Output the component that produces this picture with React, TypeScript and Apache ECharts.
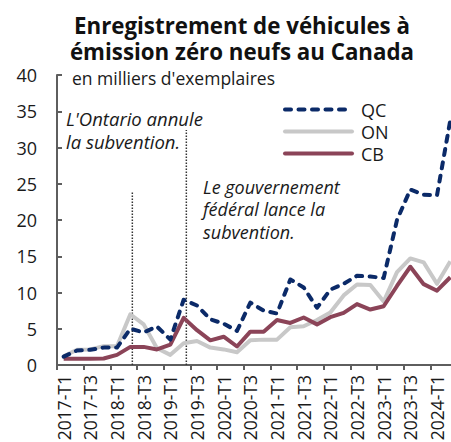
import React, { useEffect, useRef } from "react";
import * as echarts from "echarts";

const categories = [
  "2017-T1", "2017-T2", "2017-T3", "2017-T4",
  "2018-T1", "2018-T2", "2018-T3", "2018-T4",
  "2019-T1", "2019-T2", "2019-T3", "2019-T4",
  "2020-T1", "2020-T2", "2020-T3", "2020-T4",
  "2021-T1", "2021-T2", "2021-T3", "2021-T4",
  "2022-T1", "2022-T2", "2022-T3", "2022-T4",
  "2023-T1", "2023-T2", "2023-T3", "2023-T4",
  "2024-T1", "2024-T2",
];

const qcValues = [
  1.15, 2.0, 2.1, 2.4, 2.4, 5.0, 4.5, 5.3, 3.5, 9.0,
  8.2, 6.3, 5.7, 4.7, 8.6, 7.5, 7.1, 11.8, 10.7, 7.9,
  10.4, 11.2, 12.3, 12.2, 12.0, 20.0, 24.2, 23.5, 23.4, 33.8,
];

const onValues = [
  1.2, 2.1, 2.15, 2.6, 2.6, 7.0, 5.6, 2.3, 1.4, 3.0,
  3.3, 2.4, 2.15, 1.75, 3.4, 3.5, 3.5, 5.2, 5.35, 6.2,
  7.25, 9.6, 11.1, 11.05, 8.75, 12.8, 14.7, 14.15, 11.2, 14.3,
];

const cbValues = [
  0.85, 0.85, 0.85, 0.9, 1.4, 2.5, 2.5, 2.15, 2.8, 6.5,
  4.8, 3.4, 3.9, 2.55, 4.6, 4.6, 6.2, 5.8, 6.55, 5.6,
  6.6, 7.2, 8.4, 7.65, 8.1, 10.9, 13.55, 11.15, 10.25, 12.1,
];

const seriesNames = ["QC", "ON", "CB"];
const yTicks = { min: 0, max: 40, interval: 5 };

// Policy events: position along the quarter axis (0 = start of 2017-T1) and line top
const ontarioEvent = [[5.65, 0], [5.65, 23.9]];
const federalEvent = [[9.7, 0], [9.7, 32.4]];

const titleLines = ["Enregistrement de véhicules à", "émission zéro neufs au Canada"];
const subtitle = "en milliers d'exemplaires";
const ontarioNote = ["L'Ontario annule", "la subvention."];
const federalNote = ["Le gouvernement", "fédéral lance la", "subvention."];

const FONT = "'Open Sans', sans-serif";
const TEXT = "#1a1a1a";
const AXIS = "#5e5e5e";
const QC_COLOR = "#0b2a68";
const ON_COLOR = "#c8c8c8";
const CB_COLOR = "#8b4458";
const QC_DASH = [6, 7.5];

export default function App() {
  const ref = useRef<HTMLDivElement>(null);

  useEffect(() => {
    if (!ref.current) return;
    const chart = echarts.init(ref.current, null, { renderer: "svg" });

    const legendColors = [QC_COLOR, ON_COLOR, CB_COLOR];
    const legendLines = seriesNames.map((name, i) => {
      const y = 109.5 + i * 22;
      return {
        type: "line",
        shape: { x1: 285, y1: y, x2: 352, y2: y },
        style: {
          stroke: legendColors[i],
          lineWidth: 4,
          lineCap: "round",
          lineDash: i === 0 ? QC_DASH : null,
        },
      };
    });

    chart.setOption({
      animation: false,
      textStyle: { fontFamily: FONT },
      grid: {
        left: 57,
        top: 75,
        width: 400,
        height: 290,
        containLabel: false,
        outerBoundsMode: "none",
      },
      xAxis: [
        {
          type: "category",
          data: categories,
          boundaryGap: true,
          axisLine: { lineStyle: { color: AXIS, width: 2 } },
          axisTick: { show: true, interval: 1, length: 5, lineStyle: { color: AXIS, width: 2 } },
          axisLabel: {
            interval: 1,
            rotate: 90,
            fontSize: 17.5,
            color: TEXT,
            fontFamily: FONT,
            margin: 10,
          },
          splitLine: { show: false },
        },
        {
          type: "value",
          min: 0,
          max: 30,
          show: false,
          gridIndex: 0,
        },
      ],
      yAxis: {
        type: "value",
        min: yTicks.min,
        max: yTicks.max,
        interval: yTicks.interval,
        axisLine: { show: true, lineStyle: { color: AXIS, width: 2 } },
        axisTick: { show: true, inside: true, length: 5, lineStyle: { color: AXIS, width: 2 } },
        axisLabel: { fontSize: 18, color: TEXT, fontFamily: FONT, margin: 20 },
        splitLine: { show: false },
      },
      series: [
        {
          name: "ON-event",
          type: "line",
          xAxisIndex: 1,
          data: ontarioEvent,
          symbol: "none",
          silent: true,
          lineStyle: { color: "#333", width: 1.5, type: [1.5, 1.5] },
          z: 1,
        },
        {
          name: "Fed-event",
          type: "line",
          xAxisIndex: 1,
          data: federalEvent,
          symbol: "none",
          silent: true,
          lineStyle: { color: "#333", width: 1.5, type: [1.5, 1.5] },
          z: 1,
        },
        {
          name: "ON",
          type: "line",
          data: onValues,
          symbol: "none",
          lineStyle: { color: ON_COLOR, width: 4, join: "round" },
          itemStyle: { color: ON_COLOR },
          z: 3,
        },
        {
          name: "CB",
          type: "line",
          data: cbValues,
          symbol: "none",
          lineStyle: { color: CB_COLOR, width: 4, join: "round" },
          itemStyle: { color: CB_COLOR },
          z: 4,
        },
        {
          name: "QC",
          type: "line",
          data: qcValues,
          symbol: "none",
          lineStyle: { color: QC_COLOR, width: 4, type: QC_DASH, cap: "round", join: "round" },
          itemStyle: { color: QC_COLOR },
          z: 5,
        },
      ],
      graphic: [
        {
          type: "text",
          x: 242,
          y: 38.5,
          style: {
            text: titleLines.join("\n"),
            font: `bold 22.3px ${FONT}`,
            lineHeight: 26.8,
            fill: "#111",
            textAlign: "center",
            textVerticalAlign: "middle",
          },
        },
        {
          type: "text",
          x: 72,
          y: 78,
          style: {
            text: subtitle,
            font: `17.5px ${FONT}`,
            fill: TEXT,
            textVerticalAlign: "middle",
          },
        },
        {
          type: "text",
          x: 66,
          y: 129.8,
          style: {
            text: ontarioNote.join("\n"),
            font: `italic 18.5px ${FONT}`,
            lineHeight: 23.5,
            fill: TEXT,
            textVerticalAlign: "middle",
          },
        },
        {
          type: "text",
          x: 203,
          y: 209.2,
          style: {
            text: federalNote.join("\n"),
            font: `italic 18px ${FONT}`,
            lineHeight: 22.6,
            fill: TEXT,
            textVerticalAlign: "middle",
          },
        },
        ...legendLines,
        {
          type: "text",
          x: 361,
          y: 131.5,
          style: {
            text: seriesNames.join("\n"),
            font: `18px ${FONT}`,
            lineHeight: 22,
            fill: TEXT,
            textVerticalAlign: "middle",
          },
        },
      ],
    });

    return () => chart.dispose();
  }, []);

  return <div ref={ref} style={{ width: 451, height: 442, position: "absolute", left: 0, top: 0 }} />;
}
